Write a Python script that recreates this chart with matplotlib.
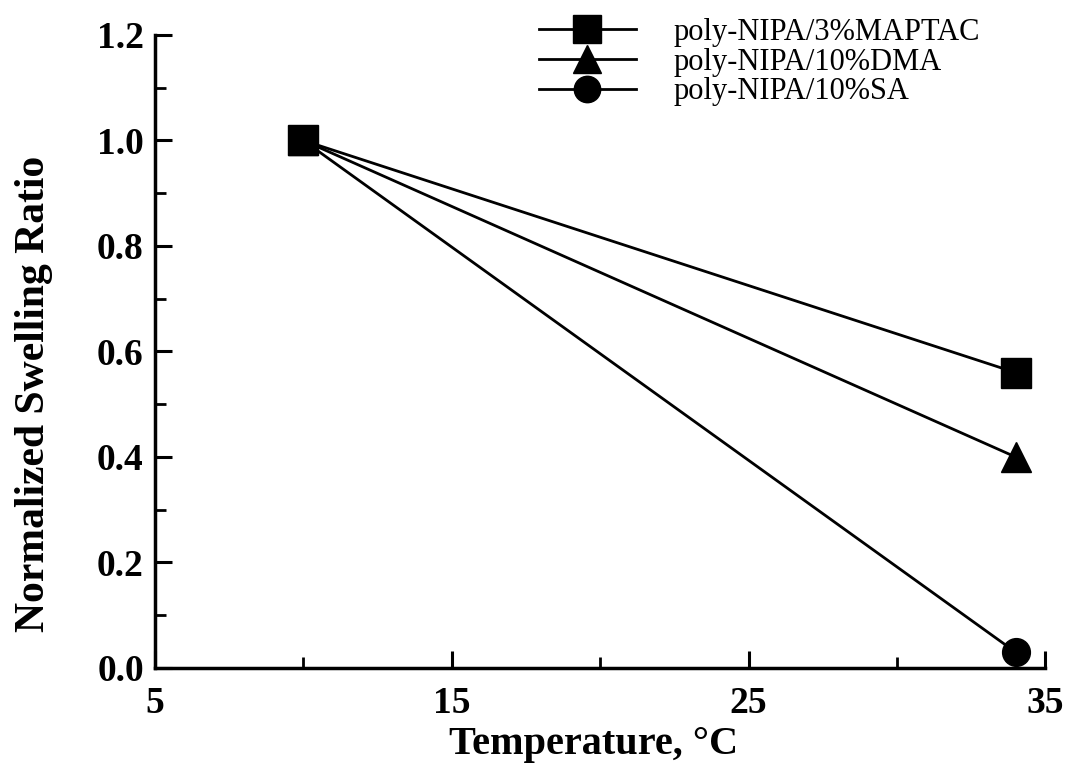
#!/usr/bin/env python3
"""Normalized swelling ratio of poly-NIPA copolymer gels vs temperature."""

import matplotlib
matplotlib.use('Agg')
import matplotlib.pyplot as plt
from matplotlib.ticker import MultipleLocator, FormatStrFormatter

# Data
temperature = [10, 34]
maptac_3 = [1.0, 0.56]
dma_10 = [1.0, 0.40]
sa_10 = [1.0, 0.03]

series_labels = ['poly-NIPA/3%MAPTAC', 'poly-NIPA/10%DMA', 'poly-NIPA/10%SA']
x_ticks = [5, 15, 25, 35]

plt.rcParams['font.family'] = ['Liberation Serif', 'DejaVu Serif']

fig = plt.figure(figsize=(10.71, 7.82), dpi=100)
ax = fig.add_axes([0.1447, 0.1458, 0.8313, 0.8095])

# order: SA first so square sits on top at the shared start point
ax.plot(temperature, sa_10, 'k-', lw=2, marker='o', ms=20, label=series_labels[2], zorder=3)
ax.plot(temperature, dma_10, 'k-', lw=2, marker='^', ms=21, label=series_labels[1], zorder=4)
ax.plot(temperature, maptac_3, 'k-', lw=2, marker='s', ms=21, label=series_labels[0], zorder=5)

ax.set_xlim(5, 35)
ax.set_ylim(0.0, 1.2)
ax.set_xticks(x_ticks)
ax.xaxis.set_minor_locator(MultipleLocator(5))
ax.yaxis.set_major_locator(MultipleLocator(0.2))
ax.yaxis.set_minor_locator(MultipleLocator(0.1))
ax.yaxis.set_major_formatter(FormatStrFormatter('%.1f'))

for side in ('top', 'right'):
    ax.spines[side].set_visible(False)
for side in ('left', 'bottom'):
    ax.spines[side].set_linewidth(2.5)

ax.tick_params(which='major', direction='in', length=12, width=2.2,
               labelsize=27, pad=8)
ax.tick_params(which='minor', direction='in', length=8, width=2)
ax.tick_params(axis='x', which='major', pad=13)
for lab in ax.get_xticklabels() + ax.get_yticklabels():
    lab.set_fontweight('bold')

ax.set_xlabel('Temperature, °C', fontsize=29, fontweight='bold')
ax.xaxis.set_label_coords(0.493, -0.092)
ax.set_ylabel('Normalized Swelling Ratio', fontsize=30, fontweight='bold')
ax.yaxis.set_label_coords(-0.115, 0.433)

handles, labels = ax.get_legend_handles_labels()
leg = ax.legend(handles[::-1], labels[::-1], loc='upper left',
                bbox_to_anchor=(0.40, 1.07), frameon=False, fontsize=22,
                handlelength=3.2, handletextpad=1.2, labelspacing=0.02,
                markerscale=0.95)

fig.savefig('out.png', dpi=100)
